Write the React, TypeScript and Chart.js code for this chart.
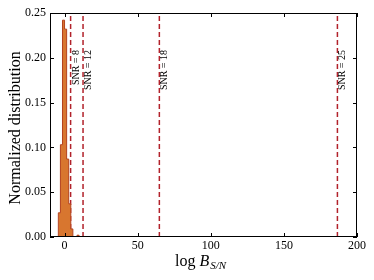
import React, { useEffect, useRef } from "react";
import { Chart, registerables } from "chart.js";

Chart.register(...registerables);

// Histogram bins (log B_S/N) and normalized heights
const binEdges = [-4.3, -2.88, -1.46, -0.04, 1.38, 2.8, 4.22, 5.64, 7.06, 8.48, 9.9];
const binHeights = [0.027, 0.103, 0.242, 0.232, 0.087, 0.037, 0.009, 0, 0, 0.002];

// SNR threshold lines
const snrLabels = ["SNR = 8", "SNR = 12", "SNR = 18", "SNR = 25"];
const snrValues = [4.1, 12.6, 64.8, 186.6];

const xTicks = [0, 50, 100, 150, 200];
const yTicks = [0, 0.05, 0.1, 0.15, 0.2, 0.25];

const SERIF = '"Liberation Serif", "DejaVu Serif", serif';

export default function App() {
  const ref = useRef<HTMLCanvasElement | null>(null);

  useEffect(() => {
    if (!ref.current) return;

    const histPts: { x: number; y: number }[] = [{ x: binEdges[0], y: 0 }];
    binHeights.forEach((h, i) => histPts.push({ x: binEdges[i], y: h }));
    histPts.push({ x: binEdges[binEdges.length - 1], y: 0 });

    const lineSets = snrValues.map((v) => ({
      type: "line" as const,
      data: [
        { x: v, y: 0 },
        { x: v, y: 0.25 },
      ],
      borderColor: "#b2222b",
      borderWidth: 1.5,
      borderDash: [5, 3],
      pointRadius: 0,
      fill: false,
    }));

    const decor = {
      id: "decor",
      afterDraw(chart: any) {
        const ctx = chart.ctx as CanvasRenderingContext2D;
        const a = chart.chartArea;
        const xs = chart.scales.x;
        const ys = chart.scales.y;
        ctx.save();
        // frame
        ctx.strokeStyle = "#000";
        ctx.lineWidth = 1;
        ctx.strokeRect(Math.round(a.left) + 0.5, Math.round(a.top) + 0.5, Math.round(a.right - a.left) - 1, Math.round(a.bottom - a.top) - 1);
        // inward ticks
        ctx.beginPath();
        const tl = 4;
        xTicks.forEach((v) => {
          const px = Math.round(xs.getPixelForValue(v)) + 0.5;
          ctx.moveTo(px, a.bottom);
          ctx.lineTo(px, a.bottom - tl);
          ctx.moveTo(px, a.top);
          ctx.lineTo(px, a.top + tl);
        });
        yTicks.forEach((v) => {
          const py = Math.round(ys.getPixelForValue(v)) + 0.5;
          ctx.moveTo(a.left, py);
          ctx.lineTo(a.left + tl, py);
          ctx.moveTo(a.right, py);
          ctx.lineTo(a.right - tl, py);
        });
        ctx.stroke();

        // SNR labels
        ctx.fillStyle = "#000";
        ctx.font = `10px ${SERIF}`;
        ctx.textAlign = "right";
        ctx.textBaseline = "alphabetic";
        snrValues.forEach((v, i) => {
          const px = xs.getPixelForValue(v);
          ctx.save();
          ctx.translate(px + 8, a.top + 37);
          ctx.rotate(-Math.PI / 2);
          ctx.fillText(snrLabels[i], 0, 0);
          ctx.restore();
        });

        // y title
        ctx.save();
        ctx.font = `16px ${SERIF}`;
        ctx.textAlign = "center";
        ctx.textBaseline = "alphabetic";
        ctx.translate(20, (a.top + a.bottom) / 2 + 3);
        ctx.rotate(-Math.PI / 2);
        ctx.fillText("Normalized distribution", 0, 0);
        ctx.restore();

        // x title: log B_{S/N}
        const base = 266;
        ctx.textAlign = "left";
        ctx.font = `16px ${SERIF}`;
        const p1 = "log ";
        const w1 = ctx.measureText(p1).width;
        ctx.font = `italic 16px ${SERIF}`;
        const w2 = ctx.measureText("B").width;
        ctx.font = `italic 11px ${SERIF}`;
        const w3 = ctx.measureText("S/N").width;
        const total = w1 + w2 + 1 + w3;
        let x0 = (a.left + a.right) / 2 - total / 2 - 3;
        ctx.font = `16px ${SERIF}`;
        ctx.fillText(p1, x0, base);
        x0 += w1;
        ctx.font = `italic 16px ${SERIF}`;
        ctx.fillText("B", x0, base);
        x0 += w2 + 1;
        ctx.font = `italic 11px ${SERIF}`;
        ctx.fillText("S/N", x0, base + 3);
        ctx.restore();
      },
    };

    const chart = new Chart(ref.current, {
      type: "line",
      data: {
        datasets: [
          {
            type: "line",
            data: histPts,
            stepped: "before",
            borderColor: "#b4421e",
            borderWidth: 1,
            backgroundColor: "#d8762f",
            fill: "origin",
            pointRadius: 0,
          } as any,
          ...lineSets,
        ],
      },
      options: {
        animation: false,
        responsive: false,
        devicePixelRatio: 1,
        layout: { padding: { left: 0, right: 17, top: 13, bottom: 0 } },
        plugins: { legend: { display: false }, tooltip: { enabled: false } },
        scales: {
          x: {
            type: "linear",
            min: -10,
            max: 200,
            afterFit: (s: any) => {
              s.height = 43;
            },
            afterBuildTicks: (s: any) => {
              s.ticks = xTicks.map((v) => ({ value: v }));
            },
            grid: { display: false, drawTicks: false },
            border: { display: false },
            ticks: {
              color: "#000",
              padding: 2,
              maxRotation: 0,
              font: { family: SERIF, size: 12 },
              callback: (v: any) => String(v),
            },
          },
          y: {
            type: "linear",
            min: 0,
            max: 0.25,
            afterFit: (s: any) => {
              s.width = 50;
            },
            afterBuildTicks: (s: any) => {
              s.ticks = yTicks.map((v) => ({ value: v }));
            },
            grid: { display: false, drawTicks: false },
            border: { display: false },
            ticks: {
              color: "#000",
              padding: 4,
              font: { family: SERIF, size: 12 },
              callback: (v: any) => Number(v).toFixed(2),
            },
          },
        },
      },
      plugins: [decor],
    });

    return () => chart.destroy();
  }, []);

  return (
    <div style={{ position: "absolute", left: 0, top: 0, width: 374, height: 280, background: "#fff" }}>
      <canvas ref={ref} width={374} height={280} />
    </div>
  );
}
